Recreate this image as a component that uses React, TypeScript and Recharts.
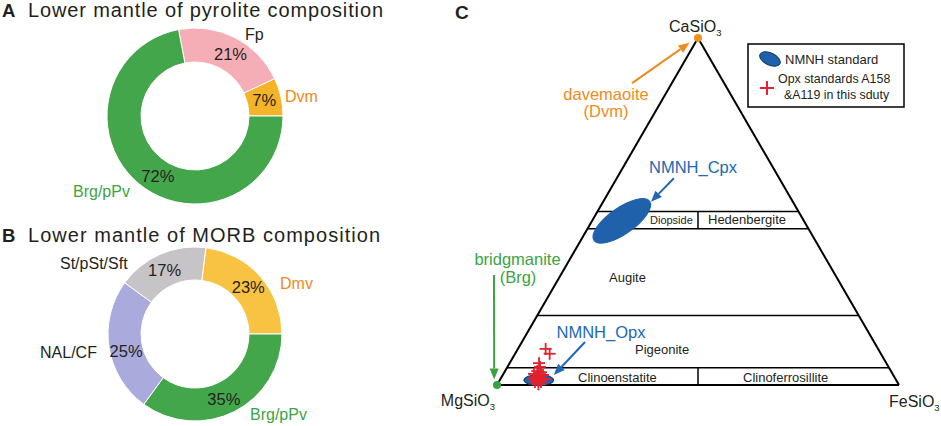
import React from 'react';
import { PieChart, Pie, Cell, ScatterChart, Scatter, XAxis, YAxis, ReferenceLine } from 'recharts';

const FONT = '"Liberation Sans", Arial, Helvetica, sans-serif';
const INK = '#231f20';
const ORANGE = '#ef8b1c';
const GREEN = '#3ca345';
const BLUE = '#2368b3';
const RED = '#e3202b';

// A: lower mantle of pyrolite composition (vol%)
const pyroliteNames = ['Dvm', 'Fp', 'Brg/pPv'];
const pyroliteValues = [7, 21, 72];
const pyroliteColors = ['#f5b327', '#f5aeb6', '#43a64b'];

// B: lower mantle of MORB composition (vol%)
const morbNames = ['Dmv', 'St/pSt/Sft', 'NAL/CF', 'Brg/pPv'];
const morbValues = [23, 17, 25, 35];
const morbColors = ['#f8c243', '#c6c4c6', '#aaaadc', '#43a64b'];

// C: pyroxene ternary, mol% Wo (CaSiO3) and Fs (FeSiO3); En = 100 - Wo - Fs
const woBoundaries = [50, 45, 20, 5];
const dividerRanges = [[50, 45], [5, 0]];
const cpxStandard = { wo: 47.3, fs: 7.4 };
const opxStandard = { wo: 1.4, fs: 9.7 };
const opxWo = [10.4, 9.0, 6.3, 5.2, 4.0, 3.7, 3.2, 2.9, 2.9, 2.3, 2.0, 1.7, 1.7, 1.4, 0.9, 0.9, 0.2];
const opxFs = [6.9, 8.6, 7.3, 8.1, 8.0, 9.1, 7.6, 8.8, 10.0, 8.6, 9.7, 8.1, 11.1, 9.5, 9.0, 10.5, 10.2];
// annotation arrows: [woStart, fsStart, woEnd, fsEnd]
const dvmArrow = [87.0, -9.9, 98.6, -1.4];
const brgArrow = [31.7, -16.6, 1.6, -1.5];
const cpxArrow = [59.6, 14.2, 52.8, 11.9];
const opxArrow = [12.4, 15.7, 2.9, 12.7];

const H = Math.sqrt(3) / 2;
const tern = (wo: number, fs: number) => ({ x: (fs + wo / 2) / 100, y: (wo / 100) * H });

const pyroliteData = pyroliteNames.map((name, i) => ({ name, value: pyroliteValues[i] }));
const morbData = morbNames.map((name, i) => ({ name, value: morbValues[i] }));
const crossData = opxWo.map((wo, i) => tern(wo, opxFs[i]));

const RAD = Math.PI / 180;
const pctLabel = (shift: Record<string, number>, r: number) => (p: any) => {
  const a = (p.midAngle + (shift[p.name] || 0)) * RAD;
  const x = p.cx + r * Math.cos(a);
  const y = p.cy - r * Math.sin(a);
  return (
    <text x={x} y={y} dy="0.35em" textAnchor="middle" fontSize={16.5} fill={INK} fontFamily={FONT}>
      {p.value}%
    </text>
  );
};

const arrowShape = (color: string) => (p: any) => {
  const { x1, y1, x2, y2 } = p;
  const ang = Math.atan2(y2 - y1, x2 - x1);
  const c = Math.cos(ang);
  const s = Math.sin(ang);
  const len = 11;
  const half = 4.5;
  const bx = x2 - len * c;
  const by = y2 - len * s;
  const pts = `${x2},${y2} ${bx - half * s},${by + half * c} ${bx + half * s},${by - half * c}`;
  return (
    <g>
      <line x1={x1} y1={y1} x2={bx} y2={by} stroke={color} strokeWidth={2} />
      <polygon points={pts} fill={color} />
    </g>
  );
};

const ellipseShape = (rx: number, ry: number, rot: number, outline: string) => (p: any) => (
  <ellipse
    cx={p.cx}
    cy={p.cy}
    rx={rx}
    ry={ry}
    transform={`rotate(${rot} ${p.cx} ${p.cy})`}
    fill="#1f62ab"
    stroke={outline}
    strokeWidth={1}
  />
);

const crossShape = (p: any) => (
  <g stroke={RED} strokeWidth={1.8}>
    <line x1={p.cx - 6} y1={p.cy} x2={p.cx + 6} y2={p.cy} />
    <line x1={p.cx} y1={p.cy - 6} x2={p.cx} y2={p.cy + 6} />
  </g>
);

const dotShape = (color: string) => (p: any) => <circle cx={p.cx} cy={p.cy} r={4} fill={color} />;

const seg = (a: { x: number; y: number }, b: { x: number; y: number }) => [a, b];
const arrowSeg = (v: number[]) => seg(tern(v[0], v[1]), tern(v[2], v[3]));

const Sub = ({ children }: { children: string }) => (
  <tspan dy={4} fontSize={9.5}>
    {children}
  </tspan>
);

export default function App() {
  const mg = tern(0, 0);
  const fe = tern(0, 100);
  const ca = tern(100, 0);

  return (
    <div style={{ position: 'absolute', left: 0, top: 0, width: 941, height: 426, background: '#fff', fontFamily: FONT }}>
      <div style={{ position: 'absolute', left: 0, top: 0 }}>
        <PieChart width={440} height={215} margin={{ top: 0, right: 0, bottom: 0, left: 0 }}>
          <Pie
            data={pyroliteData}
            dataKey="value"
            nameKey="name"
            cx={195}
            cy={116}
            innerRadius={54}
            outerRadius={88}
            startAngle={0}
            endAngle={360}
            stroke="#fff"
            strokeWidth={1}
            label={pctLabel({ 'Brg/pPv': 8, Fp: -3 }, 71)}
            labelLine={false}
            isAnimationActive={false}
          >
            {pyroliteData.map((d, i) => (
              <Cell key={d.name} fill={pyroliteColors[i]} />
            ))}
          </Pie>
        </PieChart>
      </div>

      <div style={{ position: 'absolute', left: 0, top: 215 }}>
        <PieChart width={440} height={211} margin={{ top: 0, right: 0, bottom: 0, left: 0 }}>
          <Pie
            data={morbData}
            dataKey="value"
            nameKey="name"
            cx={195}
            cy={119}
            innerRadius={54}
            outerRadius={87}
            startAngle={0}
            endAngle={360}
            stroke="#fff"
            strokeWidth={1}
            label={pctLabel({ 'NAL/CF': 5, 'Brg/pPv': -3, 'St/pSt/Sft': 2 }, 71)}
            labelLine={false}
            isAnimationActive={false}
          >
            {morbData.map((d, i) => (
              <Cell key={d.name} fill={morbColors[i]} />
            ))}
          </Pie>
        </PieChart>
      </div>

      <div style={{ position: 'absolute', left: 440, top: 0 }}>
        <ScatterChart width={501} height={426} margin={{ top: 38, right: 42, bottom: 41, left: 57 }}>
          <XAxis type="number" dataKey="x" domain={[0, 1]} hide />
          <YAxis type="number" dataKey="y" domain={[0, H]} hide />

          {woBoundaries.map((w) => (
            <ReferenceLine
              key={`wo${w}`}
              segment={seg(tern(w, 0), tern(w, 100 - w))}
              stroke="#000"
              strokeWidth={1.5}
              ifOverflow="visible"
            />
          ))}
          {dividerRanges.map(([a, b]) => (
            <ReferenceLine
              key={`div${a}`}
              segment={seg(tern(a, (100 - a) / 2), tern(b, (100 - b) / 2))}
              stroke="#000"
              strokeWidth={1.5}
              ifOverflow="visible"
            />
          ))}
          <ReferenceLine segment={seg(mg, ca)} stroke="#000" strokeWidth={2} ifOverflow="visible" />
          <ReferenceLine segment={seg(ca, fe)} stroke="#000" strokeWidth={2} ifOverflow="visible" />
          <ReferenceLine segment={seg(mg, fe)} stroke="#000" strokeWidth={2} ifOverflow="visible" />

          <ReferenceLine segment={arrowSeg(dvmArrow)} ifOverflow="visible" shape={arrowShape(ORANGE)} />
          <ReferenceLine segment={arrowSeg(brgArrow)} ifOverflow="visible" shape={arrowShape(GREEN)} />
          <ReferenceLine segment={arrowSeg(cpxArrow)} ifOverflow="visible" shape={arrowShape(BLUE)} />
          <ReferenceLine segment={arrowSeg(opxArrow)} ifOverflow="visible" shape={arrowShape(BLUE)} />

          <Scatter
            data={[tern(cpxStandard.wo, cpxStandard.fs)]}
            shape={ellipseShape(34, 13, -35, '#1f62ab')}
            isAnimationActive={false}
          />
          <Scatter
            data={[tern(opxStandard.wo, opxStandard.fs)]}
            shape={ellipseShape(15, 5.5, 0, '#0e3a69')}
            isAnimationActive={false}
          />
          <Scatter data={crossData} shape={crossShape} isAnimationActive={false} />
          <Scatter data={[ca]} shape={dotShape('#f0911e')} isAnimationActive={false} />
          <Scatter data={[mg]} shape={dotShape('#34a443')} isAnimationActive={false} />
        </ScatterChart>
      </div>

      <svg
        width={941}
        height={426}
        style={{ position: 'absolute', left: 0, top: 0, pointerEvents: 'none' }}
        fontFamily={FONT}
      >
        {/* panel A */}
        <text x={2} y={17} fontSize={18.5} fontWeight="bold" fill={INK}>A</text>
        <text x={28} y={17} fontSize={20} fill={INK} textLength={355} lengthAdjust="spacing">
          Lower mantle of pyrolite composition
        </text>
        <text x={245} y={40} fontSize={16} fill={INK}>{pyroliteNames[1]}</text>
        <text x={285} y={101.5} fontSize={16} fill={ORANGE}>{pyroliteNames[0]}</text>
        <text x={73} y={196.5} fontSize={16} fill={GREEN}>{pyroliteNames[2]}</text>

        {/* panel B */}
        <text x={2} y={241.5} fontSize={18.5} fontWeight="bold" fill={INK}>B</text>
        <text x={28} y={241.5} fontSize={20} fill={INK} textLength={352} lengthAdjust="spacing">
          Lower mantle of MORB composition
        </text>
        <text x={280} y={289} fontSize={16} fill={ORANGE}>{morbNames[0]}</text>
        <text x={60} y={269} fontSize={16} fill={INK}>{morbNames[1]}</text>
        <text x={40} y={358} fontSize={16} fill={INK}>{morbNames[2]}</text>
        <text x={250} y={419.5} fontSize={16} fill={GREEN}>{morbNames[3]}</text>

        {/* panel C */}
        <text x={455} y={19} fontSize={19} fontWeight="bold" fill={INK}>C</text>
        <text x={669} y={32} fontSize={16} fill={INK}>
          CaSiO<Sub>3</Sub>
        </text>
        <text x={495} y={406} fontSize={16} fill={INK} textAnchor="end">
          MgSiO<tspan fontSize={9.5} dy={4}>3</tspan>
        </text>
        <text x={889} y={407} fontSize={16} fill={INK}>
          FeSiO<Sub>3</Sub>
        </text>

        <text x={606} y={100} fontSize={16.5} fill={ORANGE} textAnchor="middle">davemaoite</text>
        <text x={606} y={117} fontSize={16.5} fill={ORANGE} textAnchor="middle">(Dvm)</text>
        <text x={517.5} y={265} fontSize={16.5} fill={GREEN} textAnchor="middle">bridgmanite</text>
        <text x={518} y={283} fontSize={16.5} fill={GREEN} textAnchor="middle">(Brg)</text>
        <text x={693} y={173} fontSize={16.5} fill={BLUE} textAnchor="middle">NMNH_Cpx</text>
        <text x={601} y={338} fontSize={16.5} fill={BLUE} textAnchor="middle">NMNH_Opx</text>

        <text x={650} y={224} fontSize={11} fill={INK}>Diopside</text>
        <text x={708} y={224} fontSize={13} fill={INK}>Hedenbergite</text>
        <text x={609} y={282} fontSize={13} fill={INK}>Augite</text>
        <text x={635} y={354} fontSize={13} fill={INK}>Pigeonite</text>
        <text x={578} y={382} fontSize={13} fill={INK}>Clinoenstatite</text>
        <text x={743} y={382} fontSize={13} fill={INK}>Clinoferrosillite</text>

        {/* legend */}
        <rect x={748} y={44} width={156} height={63} fill="#fff" stroke="#000" strokeWidth={1.5} />
        <ellipse cx={770} cy={59} rx={11} ry={6} transform="rotate(25 770 59)" fill="#1f62ab" stroke="#0e3a69" strokeWidth={1} />
        <text x={785} y={64} fontSize={13} fill={INK}>NMNH standard</text>
        <g stroke={RED} strokeWidth={2}>
          <line x1={760} y1={88} x2={774} y2={88} />
          <line x1={767} y1={81} x2={767} y2={95} />
        </g>
        <text x={778} y={83} fontSize={12.4} fill={INK}>Opx standards A158</text>
        <text x={784} y={99} fontSize={12.4} fill={INK}>&amp;A119 in this sduty</text>
      </svg>
    </div>
  );
}
